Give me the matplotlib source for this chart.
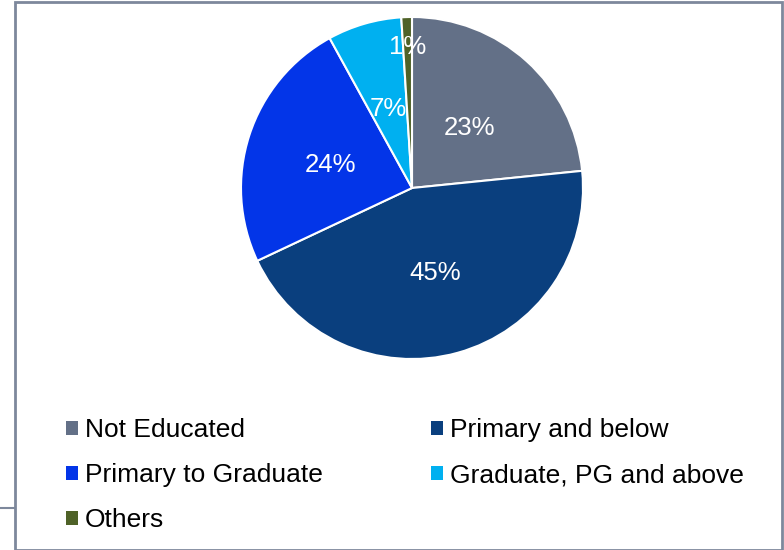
import matplotlib
matplotlib.use("Agg")
import numpy as np
import matplotlib.pyplot as plt
from matplotlib.patches import Patch, Rectangle
from matplotlib.lines import Line2D
from matplotlib.transforms import ScaledTranslation

plt.rcParams['font.family'] = ['Liberation Sans', 'DejaVu Sans']

categories = ['Not Educated', 'Primary and below', 'Primary to Graduate',
              'Graduate, PG and above', 'Others']
# shares (%); labels show them rounded
shares = [23.4, 44.6, 24.0, 7.0, 1.0]
colors = ['#637087', '#0A3F7E', '#0335E8', '#00B0F0', '#4F6228']

W, H = 784, 550
fig = plt.figure(figsize=(W / 100, H / 100), dpi=100)

# outer chart frame
frame = Rectangle((15 / W, 0), (W - 17) / W, (H - 2) / H, transform=fig.transFigure,
                  fill=False, edgecolor='#7D889C', linewidth=2)
fig.patches.append(frame)
fig.lines.append(Line2D([0, 15 / W], [1 - 508 / H] * 2, transform=fig.transFigure,
                        color='#7D889C', linewidth=1.5))

cx, cy, r = 412, 188, 171
ax = fig.add_axes([(cx - r) / W, 1 - (cy + r) / H, 2 * r / W, 2 * r / H])
wedges, texts, autotexts = ax.pie(
    shares, colors=colors, startangle=90, counterclock=False,
    autopct=lambda p: f'{p:.0f}%', pctdistance=0.5,
    wedgeprops=dict(edgecolor='white', linewidth=1.5),
    textprops=dict(color='white', fontsize=18.5))
ax.set_xlim(-1, 1)
ax.set_ylim(-1, 1)
ax.set_aspect('equal')

# the tiny slice's label sits further out
w = wedges[-1]
ang = np.deg2rad((w.theta1 + w.theta2) / 2)
autotexts[-1].set_position((0.84 * np.cos(ang), 0.84 * np.sin(ang)))
# centre on the digits rather than on the full text box
for t in autotexts:
    t.set_transform(ax.transData + ScaledTranslation(0, -3 / 100, fig.dpi_scale_trans))

order = [0, 2, 4, 1, 3]
handles = [Patch(facecolor=colors[i], edgecolor='none') for i in order]
labels = [categories[i] for i in order]
fig.legend(handles, labels, ncol=2, loc='upper left',
           bbox_to_anchor=(66 / W, 1 - 418 / H), frameon=False, borderpad=0,
           borderaxespad=0, fontsize=19, handlelength=0.45, handleheight=0.45,
           handletextpad=0.27, columnspacing=4.1, labelspacing=0.8)

fig.savefig('out.png', dpi=100)
